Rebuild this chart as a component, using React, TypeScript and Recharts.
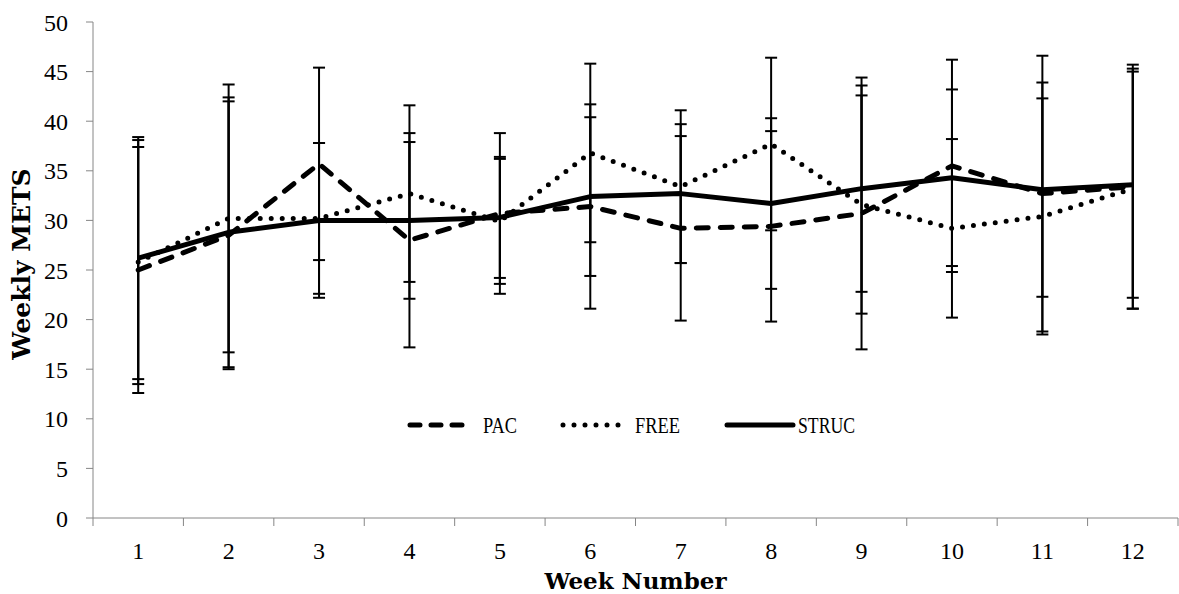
// Weekly METS by week for the three groups, mean ± SD
import React from "react";
import { LineChart, Line, XAxis, YAxis, ErrorBar, Legend } from "recharts";

const weeks = [1, 2, 3, 4, 5, 6, 7, 8, 9, 10, 11, 12];

const pac = [25.0, 28.5, 35.7, 28.0, 30.7, 31.4, 29.2, 29.4, 30.7, 35.5, 32.7, 33.4];
const pacErr = [12.4, 13.5, 9.7, 10.8, 8.1, 10.3, 9.3, 9.6, 13.7, 10.7, 13.9, 12.3];

const free = [25.8, 30.2, 30.2, 32.7, 29.9, 36.8, 33.4, 37.7, 31.6, 29.2, 30.4, 33.2];
const freeErr = [12.3, 13.5, 7.6, 8.9, 6.3, 9.0, 7.7, 8.7, 11.0, 9.0, 11.9, 12.1];

const struc = [26.2, 28.8, 30.0, 30.0, 30.3, 32.4, 32.7, 31.7, 33.2, 34.3, 33.1, 33.6];
const strucErr = [12.2, 13.6, 7.8, 7.9, 6.1, 8.0, 7.0, 8.6, 10.4, 8.9, 10.8, 11.4];

const yTicks = [0, 5, 10, 15, 20, 25, 30, 35, 40, 45, 50];
const seriesNames = ["PAC", "FREE", "STRUC"];

const data = weeks.map((week, i) => ({
  week,
  pac: pac[i],
  pacErr: pacErr[i],
  free: free[i],
  freeErr: freeErr[i],
  struc: struc[i],
  strucErr: strucErr[i],
}));

// labels sit on the weeks, tick marks between them
const xTicks = [
  ...weeks,
  ...weeks.map((w) => w - 0.5),
  weeks[weeks.length - 1] + 0.5,
].sort((a, b) => a - b);

const SERIF = "'Liberation Serif', serif";
const TITLE = "'DejaVu Serif', serif";
const AXIS = "#868686";

const lineStyles: Record<string, { dash?: string; width: number }> = {
  PAC: { dash: "12 12", width: 5 },
  FREE: { dash: "0 11", width: 5 },
  STRUC: { width: 5 },
};

const WeekTick = (props: any) => {
  const { x, y, payload } = props;
  if (Number.isInteger(payload.value)) {
    return (
      <text x={x} y={y + 41} textAnchor="middle" fontFamily={SERIF} fontSize={24} fill="#000">
        {payload.value}
      </text>
    );
  }
  return <line x1={x} y1={y} x2={x} y2={y + 8} stroke={AXIS} strokeWidth={1} />;
};

const LegendBox = () => {
  // sample start, sample end, text x, text width
  const spots = [
    [5, 63, 78, 34],
    [158, 215, 230, 45],
    [322, 388, 393, 57],
  ];
  return (
    <svg width={470} height={30}>
      {seriesNames.map((name, i) => {
        const [x1, x2, tx, tw] = spots[i];
        const st = lineStyles[name];
        return (
          <g key={name}>
            <line
              x1={x1}
              y1={15}
              x2={x2}
              y2={15}
              stroke="#000"
              strokeWidth={st.width}
              strokeLinecap="round"
              strokeDasharray={name === "PAC" ? "10 11" : st.dash}
            />
            <text
              x={tx}
              y={15}
              dy="0.35em"
              fontFamily={SERIF}
              fontSize={23}
              textLength={tw}
              lengthAdjust="spacingAndGlyphs"
              fill="#000"
            >
              {name}
            </text>
          </g>
        );
      })}
    </svg>
  );
};

export default function App() {
  return (
    <div style={{ position: "absolute", left: 0, top: 0, background: "#fff" }}>
      <LineChart
        width={1179}
        height={594}
        data={data}
        margin={{ top: 22, right: 1, bottom: 0, left: 0 }}
      >
        <XAxis
          dataKey="week"
          type="number"
          domain={[0.5, 12.5]}
          ticks={xTicks}
          interval={0}
          tick={<WeekTick />}
          tickLine={false}
          tickSize={0}
          tickMargin={0}
          height={76}
          stroke={AXIS}
          label={{
            value: "Week Number",
            position: "insideBottom",
            offset: 5,
            fill: "#000",
            fontSize: 23,
            fontWeight: "bold",
            fontFamily: TITLE,
          }}
        />
        <YAxis
          type="number"
          domain={[0, 50]}
          ticks={yTicks}
          width={93}
          stroke={AXIS}
          tickSize={7}
          tickMargin={18}
          tick={{ fill: "#000", fontSize: 24, fontFamily: SERIF }}
          label={{
            content: () => (
              <text
                x={30}
                y={264}
                transform="rotate(-90 30 264)"
                textAnchor="middle"
                fontFamily={TITLE}
                fontWeight="bold"
                fontSize={25}
                fill="#000"
              >
                Weekly METS
              </text>
            ),
          }}
        />
        <Legend
          layout="horizontal"
          verticalAlign="middle"
          align="center"
          content={<LegendBox />}
          wrapperStyle={{ left: 405, top: 410, width: 470, height: 30 }}
        />
        <Line
          name="PAC"
          dataKey="pac"
          type="linear"
          stroke="#000"
          strokeWidth={lineStyles.PAC.width}
          strokeLinecap="round"
          strokeLinejoin="round"
          strokeDasharray={lineStyles.PAC.dash}
          dot={false}
          activeDot={false}
          isAnimationActive={false}
        >
          <ErrorBar dataKey="pacErr" direction="y" width={6} stroke="#000" strokeWidth={2} />
        </Line>
        <Line
          name="FREE"
          dataKey="free"
          type="linear"
          stroke="#000"
          strokeWidth={lineStyles.FREE.width}
          strokeLinecap="round"
          strokeDasharray={lineStyles.FREE.dash}
          dot={false}
          activeDot={false}
          isAnimationActive={false}
        >
          <ErrorBar dataKey="freeErr" direction="y" width={6} stroke="#000" strokeWidth={2} />
        </Line>
        <Line
          name="STRUC"
          dataKey="struc"
          type="linear"
          stroke="#000"
          strokeWidth={lineStyles.STRUC.width}
          strokeLinejoin="round"
          dot={false}
          activeDot={false}
          isAnimationActive={false}
        >
          <ErrorBar dataKey="strucErr" direction="y" width={6} stroke="#000" strokeWidth={2} />
        </Line>
      </LineChart>
    </div>
  );
}
